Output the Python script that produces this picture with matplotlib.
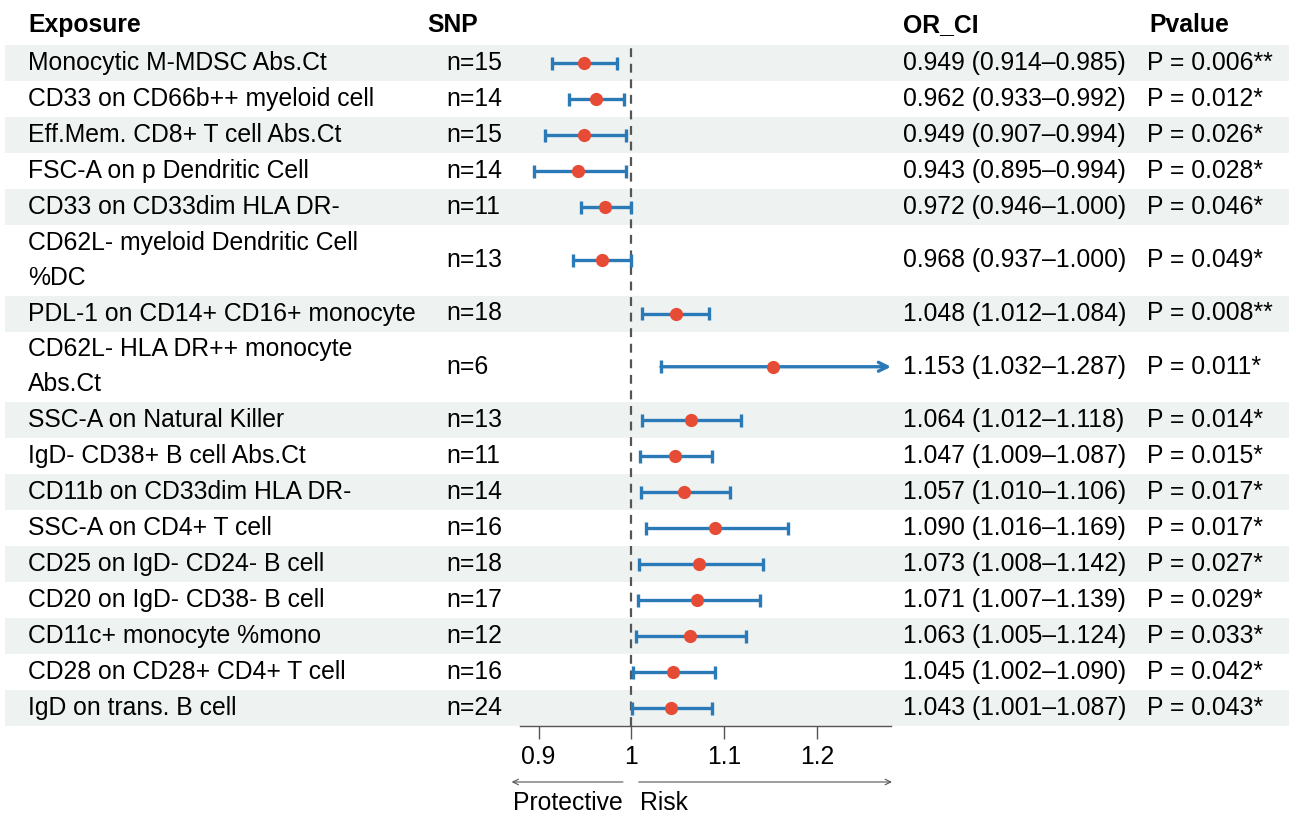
import numpy as np
import matplotlib.pyplot as plt
from matplotlib.patches import Rectangle

plt.rcParams['font.family'] = ['Liberation Sans', 'DejaVu Sans']

# data
exposure = [
    "Monocytic M-MDSC Abs.Ct",
    "CD33 on CD66b++ myeloid cell",
    "Eff.Mem. CD8+ T cell Abs.Ct",
    "FSC-A on p Dendritic Cell",
    "CD33 on CD33dim HLA DR-",
    "CD62L- myeloid Dendritic Cell\n%DC",
    "PDL-1 on CD14+ CD16+ monocyte",
    "CD62L- HLA DR++ monocyte\nAbs.Ct",
    "SSC-A on Natural Killer",
    "IgD- CD38+ B cell Abs.Ct",
    "CD11b on CD33dim HLA DR-",
    "SSC-A on CD4+ T cell",
    "CD25 on IgD- CD24- B cell",
    "CD20 on IgD- CD38- B cell",
    "CD11c+ monocyte %mono",
    "CD28 on CD28+ CD4+ T cell",
    "IgD on trans. B cell",
]
snp = [15, 14, 15, 14, 11, 13, 18, 6, 13, 11, 14, 16, 18, 17, 12, 16, 24]
or_val = [0.949, 0.962, 0.949, 0.943, 0.972, 0.968, 1.048, 1.153, 1.064,
          1.047, 1.057, 1.090, 1.073, 1.071, 1.063, 1.045, 1.043]
ci_low = [0.914, 0.933, 0.907, 0.895, 0.946, 0.937, 1.012, 1.032, 1.012,
          1.009, 1.010, 1.016, 1.008, 1.007, 1.005, 1.002, 1.001]
ci_high = [0.985, 0.992, 0.994, 0.994, 1.000, 1.000, 1.084, 1.287, 1.118,
           1.087, 1.106, 1.169, 1.142, 1.139, 1.124, 1.090, 1.087]
pval = [0.006, 0.012, 0.026, 0.028, 0.046, 0.049, 0.008, 0.011, 0.014,
        0.015, 0.017, 0.017, 0.027, 0.029, 0.033, 0.042, 0.043]
xticks = [0.9, 1, 1.1, 1.2]
xtick_labels = ["0.9", "1", "1.1", "1.2"]

W, H = 1289, 814
FS = 17.8
line_col = "#2A7AB8"
dot_col = "#E64B35"
stripe_col = "#EEF2F1"

fig = plt.figure(figsize=(W / 100, H / 100), dpi=100)
bg = fig.add_axes([0, 0, 1, 1])
bg.set_xlim(0, W)
bg.set_ylim(H, 0)
bg.axis('off')

# row layout (pixels)
heights = np.array([70.5 if '\n' in e else 36 for e in exposure])
top = 45
edges = top + np.concatenate([[0], np.cumsum(heights)])
centers = (edges[:-1] + edges[1:]) / 2
bottom = edges[-1]

for i in range(len(exposure)):
    if i % 2 == 0:
        bg.add_patch(Rectangle((5, edges[i]), W - 5, heights[i],
                               color=stripe_col, lw=0, zorder=0))

# header
hy = 25
bg.text(28, hy, "Exposure", fontsize=FS, fontweight='bold', va='center')
bg.text(427, hy, "SNP", fontsize=FS, fontweight='bold', va='center')
bg.text(903, hy, "OR_CI", fontsize=FS, fontweight='bold', va='center')
bg.text(1149, hy, "Pvalue", fontsize=FS, fontweight='bold', va='center')

for i, y in enumerate(centers):
    bg.text(28, y, exposure[i], fontsize=FS, va='center', linespacing=1.6)
    bg.text(446, y, f"n={snp[i]}", fontsize=FS, va='center')
    bg.text(903, y, f"{or_val[i]:.3f} ({ci_low[i]:.3f}\u2013{ci_high[i]:.3f})",
            fontsize=FS, va='center')
    stars = "**" if pval[i] < 0.01 else ("*" if pval[i] < 0.05 else "")
    bg.text(1147, y, f"P = {pval[i]:.3f}{stars}", fontsize=FS, va='center')

# forest panel
x0, x1 = 0.88, 1.28
ax = fig.add_axes([520 / W, 1 - bottom / H, (891 - 520) / W, (bottom - top) / H])
ax.set_xlim(x0, x1)
ax.set_ylim(bottom, top)
ax.patch.set_alpha(0)
for s in ['top', 'right', 'left']:
    ax.spines[s].set_visible(False)
ax.spines['bottom'].set_color('#555555')
ax.spines['bottom'].set_linewidth(1.0)
ax.set_yticks([])
ax.set_xticks(xticks)
ax.set_xticklabels(xtick_labels)
ax.tick_params(axis='x', length=9, width=1, color='#555555', pad=5, labelsize=FS)

ax.axvline(1, color='#555555', ls=(0, (4, 3)), lw=1.6, zorder=1)

cap = 6.5
for i, y in enumerate(centers):
    lo, hi = ci_low[i], ci_high[i]
    ax.vlines(lo, y - cap, y + cap, color=line_col, lw=2.4, zorder=2)
    if hi > x1:
        ax.annotate('', xy=(x1, y), xytext=(lo, y),
                    arrowprops=dict(arrowstyle='->', color=line_col, lw=2.4,
                                    mutation_scale=16, shrinkA=0, shrinkB=0),
                    annotation_clip=False, zorder=2)
    else:
        ax.hlines(y, lo, hi, color=line_col, lw=2.4, zorder=2)
        ax.vlines(hi, y - cap, y + cap, color=line_col, lw=2.4, zorder=2)
    ax.plot(or_val[i], y, 'o', ms=9.5, color=dot_col, mec='none', zorder=3)

# direction arrows below the axis
ay = 782
ax.annotate('', xy=(0.871, ay), xytext=(0.991, ay),
            arrowprops=dict(arrowstyle='->', color='#555555', lw=0.8,
                            shrinkA=0, shrinkB=0),
            annotation_clip=False)
ax.annotate('', xy=(1.281, ay), xytext=(1.008, ay),
            arrowprops=dict(arrowstyle='->', color='#555555', lw=0.8,
                            shrinkA=0, shrinkB=0),
            annotation_clip=False)
ax.text(0.872, 803, "Protective", fontsize=FS, va='center', ha='left', clip_on=False)
ax.text(1.009, 803, "Risk", fontsize=FS, va='center', ha='left', clip_on=False)

fig.savefig("out.png", dpi=100)
